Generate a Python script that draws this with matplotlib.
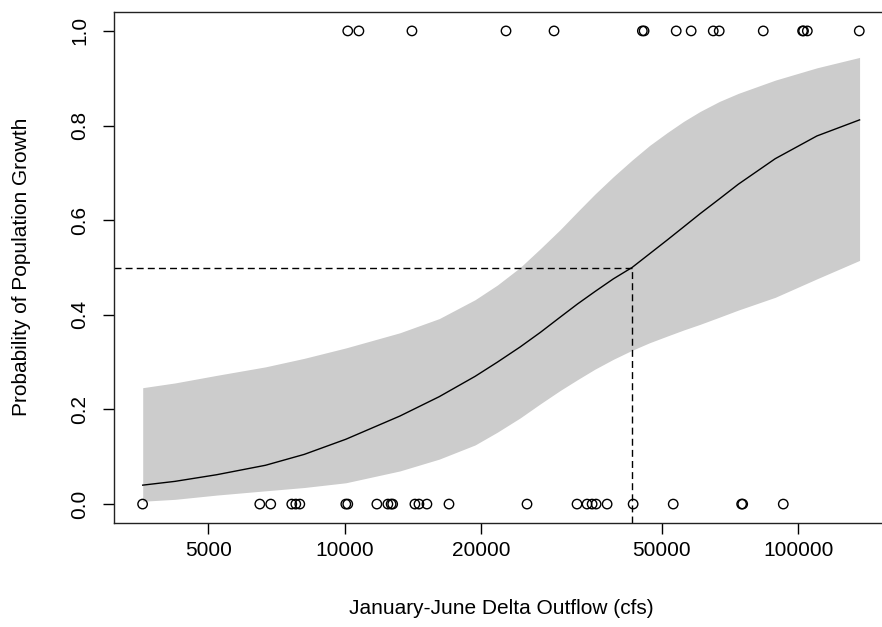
import matplotlib
matplotlib.use("Agg")
import matplotlib.pyplot as plt
from matplotlib.ticker import FixedLocator, NullLocator, FixedFormatter

plt.rcParams['font.family'] = ['Liberation Sans', 'DejaVu Sans']

# Observed outcomes (1 = population growth, 0 = no growth)
outflow_growth = [10150, 10740, 14060, 22670, 28930, 45300, 45700, 53800, 58040,
                  64930, 66930, 83700, 102200, 102700, 104700, 136300]
outflow_nogrowth = [3581, 6493, 6864, 7638, 7796, 7956, 10050, 10150, 11765,
                    12443, 12650, 12750, 14273, 14569, 15172, 16970, 25220,
                    32510, 34210, 35100, 35820, 37880, 43230, 52990, 75000,
                    75400, 92660]

# Fitted curve and confidence band
curve_x = [3583, 4221, 5214, 6683, 8136, 10051, 13222, 16150, 19380, 21700,
           24350, 27000, 29840, 32600, 35590, 39100, 42990, 47000, 51380, 55900,
           60790, 67000, 73740, 88960, 109900, 136500]
curve_p = [0.040, 0.048, 0.062, 0.082, 0.105, 0.137, 0.186, 0.227, 0.270, 0.300,
           0.332, 0.363, 0.395, 0.423, 0.449, 0.476, 0.500, 0.529, 0.558, 0.586,
           0.614, 0.645, 0.676, 0.730, 0.778, 0.812]
band_lo = [0.006, 0.010, 0.019, 0.028, 0.035, 0.045, 0.070, 0.095, 0.125, 0.152,
           0.182, 0.212, 0.240, 0.263, 0.285, 0.306, 0.325, 0.341, 0.355, 0.368,
           0.380, 0.395, 0.410, 0.437, 0.476, 0.515]
band_hi = [0.246, 0.256, 0.272, 0.290, 0.308, 0.330, 0.362, 0.392, 0.432, 0.463,
           0.500, 0.540, 0.580, 0.618, 0.655, 0.692, 0.727, 0.758, 0.785, 0.809,
           0.830, 0.851, 0.868, 0.896, 0.922, 0.944]

x50 = 43000
p50 = 0.5

xticks = [5000, 10000, 20000, 50000, 100000]
xtick_labels = ["5000", "10000", "20000", "50000", "100000"]
yticks = [0.0, 0.2, 0.4, 0.6, 0.8, 1.0]
ytick_labels = ["0.0", "0.2", "0.4", "0.6", "0.8", "1.0"]

W, H = 882, 627
fig = plt.figure(figsize=(W/100, H/100), dpi=100)
left_px, right_px, top_px, bot_px = 114, 888, 12, 523
ax = fig.add_axes([left_px/W, (H-bot_px)/H, (right_px-left_px)/W, (bot_px-top_px)/H])

ax.fill_between(curve_x, band_lo, band_hi, color="#CCCCCC", linewidth=0, zorder=1)
ax.plot(curve_x, curve_p, color="black", linewidth=1.0, zorder=3)

ax.scatter(outflow_growth, [1]*len(outflow_growth), s=46, facecolors="none",
           edgecolors="black", linewidths=1.0, zorder=4)
ax.scatter(outflow_nogrowth, [0]*len(outflow_nogrowth), s=46, facecolors="none",
           edgecolors="black", linewidths=1.0, zorder=4)

ax.set_xscale("log")
ax.set_xlim(3097, 157700)
ax.set_ylim(-0.04, 1.04)

ax.plot([3097, x50], [p50, p50], color="black", linewidth=1.0,
        linestyle=(0, (5, 3)), zorder=2)
ax.plot([x50, x50], [-0.04, p50], color="black", linewidth=1.0,
        linestyle=(0, (5, 3)), zorder=2)

ax.xaxis.set_major_locator(FixedLocator(xticks))
ax.xaxis.set_major_formatter(FixedFormatter(xtick_labels))
ax.xaxis.set_minor_locator(NullLocator())
ax.set_yticks(yticks)
ax.set_yticklabels(ytick_labels, rotation=90, va="center")

ax.tick_params(axis="both", direction="out", length=8, width=1.0, labelsize=15,
               colors="black")
ax.tick_params(axis="x", pad=5)
ax.tick_params(axis="y", pad=10)

for s in ax.spines.values():
    s.set_linewidth(1.0)
    s.set_color("#222222")

fig.text(0.5 * (left_px + right_px) / W, 1 - 608 / H,
         "January-June Delta Outflow (cfs)", fontsize=15, ha="center", va="center")
fig.text(22 / W, 1 - 267 / H, "Probability of Population Growth", fontsize=15,
         rotation=90, ha="center", va="center")

fig.savefig("out.png", dpi=100)
